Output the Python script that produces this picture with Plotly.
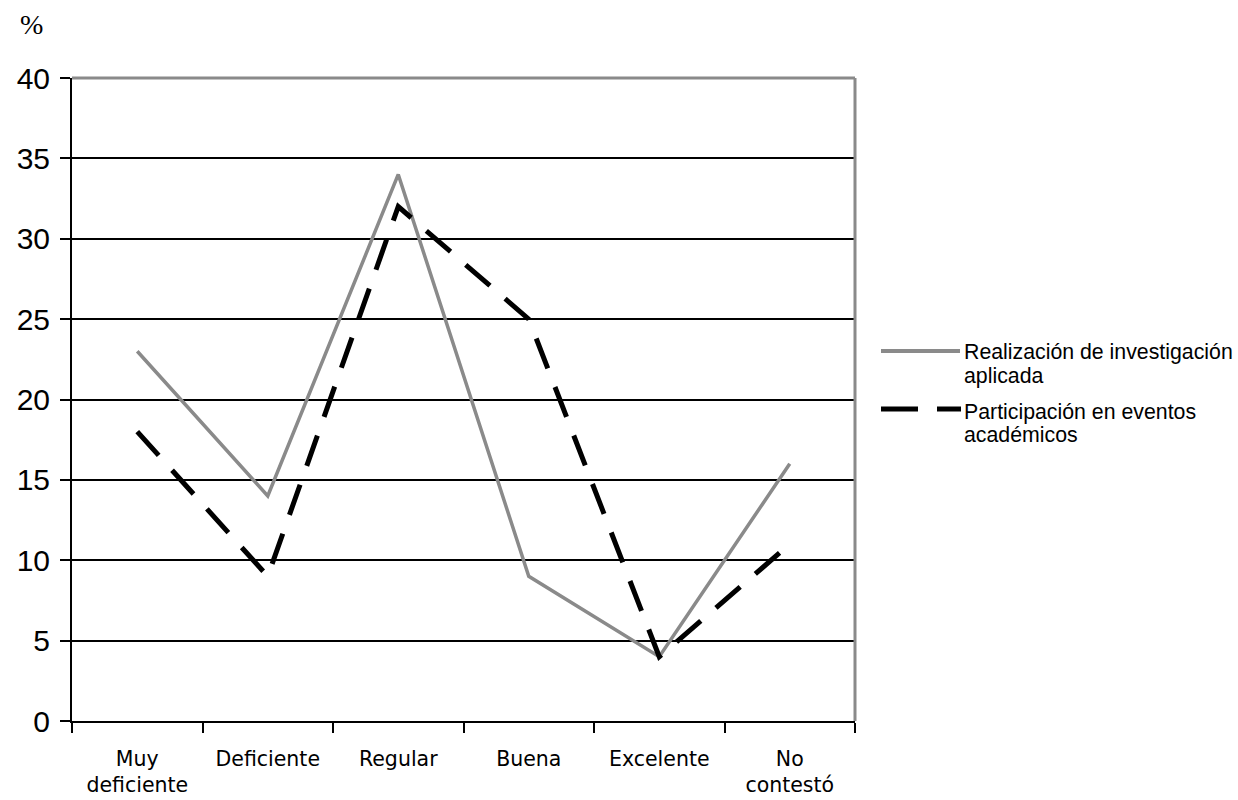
import plotly.graph_objects as go

# Datos
categorias = ["Muy<br>deficiente", "Deficiente", "Regular", "Buena", "Excelente", "No<br>contestó"]
investigacion_aplicada = [23, 14, 34, 9, 4, 16]
eventos_academicos = [18, 9, 32, 25, 4, 11]
series_nombres = ["Realización de investigación", "aplicada", "Participación en eventos", "académicos"]

GRIS = "#8a8a8a"
W, H = 1238, 800
L, R, T, B = 72, 383, 78, 79
pw = W - L - R
ph = H - T - B


def px_x(px):
    return (px - L) / pw


def px_y(py):
    return (H - B - py) / ph


fig = go.Figure()
fig.add_trace(go.Scatter(
    x=categorias, y=investigacion_aplicada, mode="lines",
    line=dict(color=GRIS, width=3.5), showlegend=False, cliponaxis=False,
))
fig.add_trace(go.Scatter(
    x=categorias, y=eventos_academicos, mode="lines",
    line=dict(color="black", width=5, dash="32px,20px"), showlegend=False, cliponaxis=False,
))

# Borde superior y derecho del área de trazado
shapes = [
    dict(type="line", xref="paper", yref="paper", x0=0, x1=1, y0=1, y1=1,
         line=dict(color=GRIS, width=3), layer="above"),
    dict(type="line", xref="paper", yref="paper", x0=1, x1=1, y0=0, y1=1,
         line=dict(color=GRIS, width=3), layer="above"),
]

# Leyenda dibujada a mano
shapes.append(dict(type="line", xref="paper", yref="paper",
                   x0=px_x(881), x1=px_x(960), y0=px_y(351), y1=px_y(351),
                   line=dict(color=GRIS, width=4)))
shapes.append(dict(type="line", xref="paper", yref="paper",
                   x0=px_x(881), x1=px_x(918), y0=px_y(409), y1=px_y(409),
                   line=dict(color="black", width=5)))
shapes.append(dict(type="line", xref="paper", yref="paper",
                   x0=px_x(937), x1=px_x(961), y0=px_y(409), y1=px_y(409),
                   line=dict(color="black", width=5)))

annotations = [
    dict(text="%", xref="paper", yref="paper", x=px_x(31), y=px_y(25),
         xanchor="center", yanchor="middle", showarrow=False,
         font=dict(family="Liberation Serif", size=28, color="black")),
]
leyenda_y = [352, 376, 412, 435]
for texto, yy in zip(series_nombres, leyenda_y):
    annotations.append(dict(
        text=texto, xref="paper", yref="paper", x=px_x(962), y=px_y(yy),
        xanchor="left", yanchor="middle", showarrow=False,
        font=dict(family="Liberation Sans", size=21.3, color="black"),
    ))

fig.update_layout(
    width=W, height=H,
    margin=dict(l=L, r=R, t=T, b=B, pad=0, autoexpand=False),
    paper_bgcolor="white", plot_bgcolor="white",
    shapes=shapes, annotations=annotations,
    showlegend=False,
    xaxis=dict(
        type="category", range=[-0.5, 5.5], tickson="boundaries",
        ticks="outside", ticklen=10, tickwidth=2, tickcolor="black",
        showline=True, linecolor="black", linewidth=2, showgrid=False,
        tickfont=dict(family="DejaVu Sans", size=20.5, color="black"),
        ticklabelstandoff=18, automargin=False,
    ),
    yaxis=dict(
        range=[0, 40], dtick=5, tick0=0,
        ticks="outside", ticklen=10, tickwidth=2, tickcolor="black",
        showline=True, linecolor="black", linewidth=2,
        showgrid=True, gridcolor="black", gridwidth=2, zeroline=False,
        tickfont=dict(family="Liberation Sans", size=30, color="black"),
        ticklabelstandoff=4, automargin=False,
    ),
)

fig.write_html("out.html")
